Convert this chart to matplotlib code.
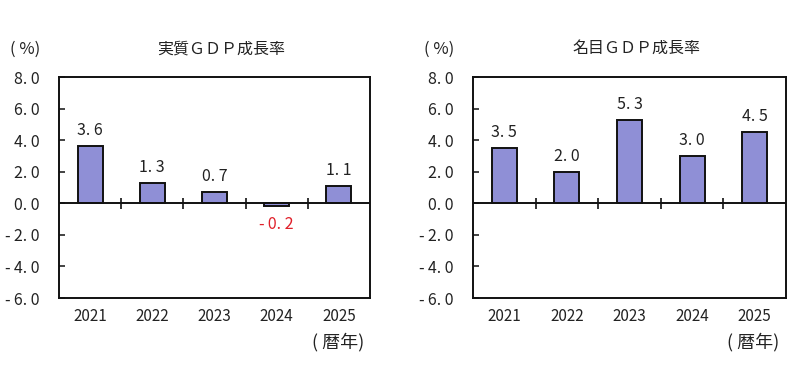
import matplotlib
matplotlib.use("Agg")
import matplotlib.pyplot as plt

plt.rcParams['font.family'] = ['Noto Sans CJK JP', 'DejaVu Sans']

years = ["2021", "2022", "2023", "2024", "2025"]
real_growth = [3.6, 1.3, 0.7, -0.2, 1.1]
nominal_growth = [3.5, 2.0, 5.3, 3.0, 4.5]
titles = ["実質ＧＤＰ成長率", "名目ＧＤＰ成長率"]
y_ticks = [-6, -4, -2, 0, 2, 4, 6, 8]

bar_color = "#8f8fd6"
text_color = "#222222"


def fmt(v):
    s = "%.1f" % abs(v)
    s = s.replace(".", ". ")
    if v < 0:
        s = "-\u2009" + s
    return s


def draw_panel(ax, values, title):
    x = list(range(len(years)))
    ax.bar(x, values, width=0.4, color=bar_color, edgecolor="#111111",
           linewidth=1.4, zorder=3)
    ax.set_xlim(-0.5, len(years) - 0.5)
    ax.set_ylim(-6, 8)
    ax.axhline(0, color="#111111", linewidth=1.4, zorder=4)
    # category boundary ticks crossing the zero line
    bounds = [i + 0.5 for i in range(len(years) - 1)]
    ax.vlines(bounds, -0.35, 0.35, color="#111111", linewidth=1.2, zorder=4)

    ax.set_yticks(y_ticks)
    ax.set_yticklabels([fmt(t) for t in y_ticks])
    ax.set_xticks(x)
    ax.set_xticklabels(years)
    ax.tick_params(axis="y", direction="in", length=4, width=1.2,
                   labelsize=11.5, colors=text_color, pad=14)
    ax.tick_params(axis="x", length=0, labelsize=11, colors=text_color, pad=7)
    for sp in ax.spines.values():
        sp.set_linewidth(1.4)
        sp.set_color("#111111")

    for xi, v in zip(x, values):
        if v >= 0:
            ax.text(xi, v + 0.45, fmt(v), ha="center", va="bottom",
                    fontsize=11.5, color=text_color)
        else:
            ax.text(xi, v - 0.6, fmt(v), ha="center", va="top",
                    fontsize=11.5, color="#e0202a")

    ax.text(0.5225, 1.09, title, transform=ax.transAxes, ha="center",
            va="bottom", fontsize=11.5, color=text_color)
    ax.text(-0.109, 1.125, "( %)", transform=ax.transAxes, ha="center",
            va="center", fontsize=12, color=text_color)
    ax.text(0.98, -0.2, "( 暦年)", transform=ax.transAxes, ha="right",
            va="center", fontsize=13, color=text_color)


fig = plt.figure(figsize=(8, 3.69), dpi=100)
ax1 = fig.add_axes([0.07375, 0.1924, 0.38875, 0.5989])
ax2 = fig.add_axes([0.59125, 0.1924, 0.39125, 0.5989])

draw_panel(ax1, real_growth, titles[0])
draw_panel(ax2, nominal_growth, titles[1])

fig.savefig("out.png", dpi=100)
